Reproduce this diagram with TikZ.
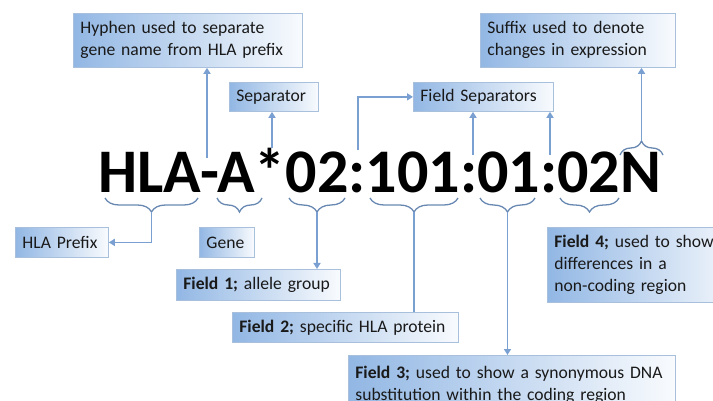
\documentclass[tikz,border=0pt]{standalone}
\usepackage{fontspec}
\setmainfont{Carlito}
\usepackage{tikz}
\usetikzlibrary{shapes,arrows,positioning,calc,decorations.pathreplacing,arrows.meta}

\definecolor{boxblue}{RGB}{146,183,228}
\definecolor{boxedge}{RGB}{168,192,220}
\definecolor{linkblue}{RGB}{122,160,210}

\tikzset{
    lbl/.style={draw=boxedge, line width=0.8pt, left color=boxblue, right color=white!94!boxblue,
        anchor=north west, align=left, inner xsep=7pt, inner ysep=0pt,
        font=\fontsize{17.6}{22}\selectfont, text=black!90},
    link/.style={draw=linkblue, line width=1.6pt},
    tip/.style={link, -{Triangle[length=6pt,width=7pt]}},
    brc/.style={draw=linkblue!85!black, line width=1.3pt, decorate, decoration={brace, amplitude=14pt}},
}

\begin{document}
\begin{tikzpicture}[x=1pt, y=-1pt]
    \useasboundingbox (0,0) rectangle (713,401);
    \clip (0,0) rectangle (713,401);

    % the allele name
    \node[anchor=base west, inner sep=0pt, font=\bfseries\fontsize{62}{62}\selectfont] (code) at (98,193) {HLA-A*02:101:01:02N};

    % labels above
    \node[lbl, text width=215pt, minimum height=54pt] (hyphen) at (73,13) {Hyphen used to separate\\gene name from HLA prefix};
    \node[lbl, text width=75pt, minimum height=29pt] (sep) at (229,82) {Separator};
    \node[lbl, text width=126pt, minimum height=29pt] (fsep) at (413,82) {Field Separators};
    \node[lbl, text width=181pt, minimum height=54pt] (suffix) at (480,13) {Suffix used to denote\\changes in expression};

    % labels below
    \node[lbl, text width=79pt, minimum height=30pt] (prefix) at (15,227) {HLA Prefix};
    \node[lbl, text width=41pt, minimum height=30pt] (gene) at (199,227) {Gene};
    \node[lbl, text width=150pt, minimum height=31pt] (f1) at (176,269) {\mbox{\textbf{Field 1;} allele group}};
    \node[lbl, text width=212pt, minimum height=30pt] (f2) at (232,312) {\mbox{\textbf{Field 2;} specific HLA protein}};
    \node[lbl, text width=313pt, minimum height=58pt] (f3) at (348,355) {\mbox{\textbf{Field 3;} used to show a synonymous DNA}\\substitution within the coding region};
    \node[lbl, text width=186pt, minimum height=75pt] (f4) at (547,227) {\mbox{\textbf{Field 4;} used to show}\\differences in a\\non-coding region};

    % braces under the fields
    \foreach \n/\a/\b in {pre/105/198, gen/217/262, fa/289/345, fb/370/458, fc/480/535, fd/560/619} {
        \draw[brc] (\b,198) -- (\a,198);
        \coordinate (\n) at ({(\a+\b)/2},212);
    }
    % brace over the suffix
    \draw[brc] (620,155) -- (663,155);
    \coordinate (sfx) at (641.5,141);

    % connectors up
    \coordinate (hy) at (207,158);
    \coordinate (st) at (272,148);
    \coordinate (c1) at (358,150);
    \coordinate (c2) at (473,155);
    \coordinate (c3) at (550,155);
    \draw[tip] (hy) -- (hyphen.south -| hy);
    \draw[tip] (st) -- (sep.south -| st);
    \draw[tip] (c1) |- (fsep.west);
    \draw[tip] (c2) -- (fsep.south -| c2);
    \draw[tip] (c3) -- (fsep.south -| c3);
    \draw[tip] (sfx) -- (suffix.south -| sfx);

    % connectors down
    \draw[tip] (pre) |- (prefix.east);
    \draw[tip] (fa) -- (f1.north -| fa);
    \draw[link] (fb) -- (f2.north -| fb);
    \draw[tip] (fc) -- (f3.north -| fc);
\end{tikzpicture}
\end{document}
